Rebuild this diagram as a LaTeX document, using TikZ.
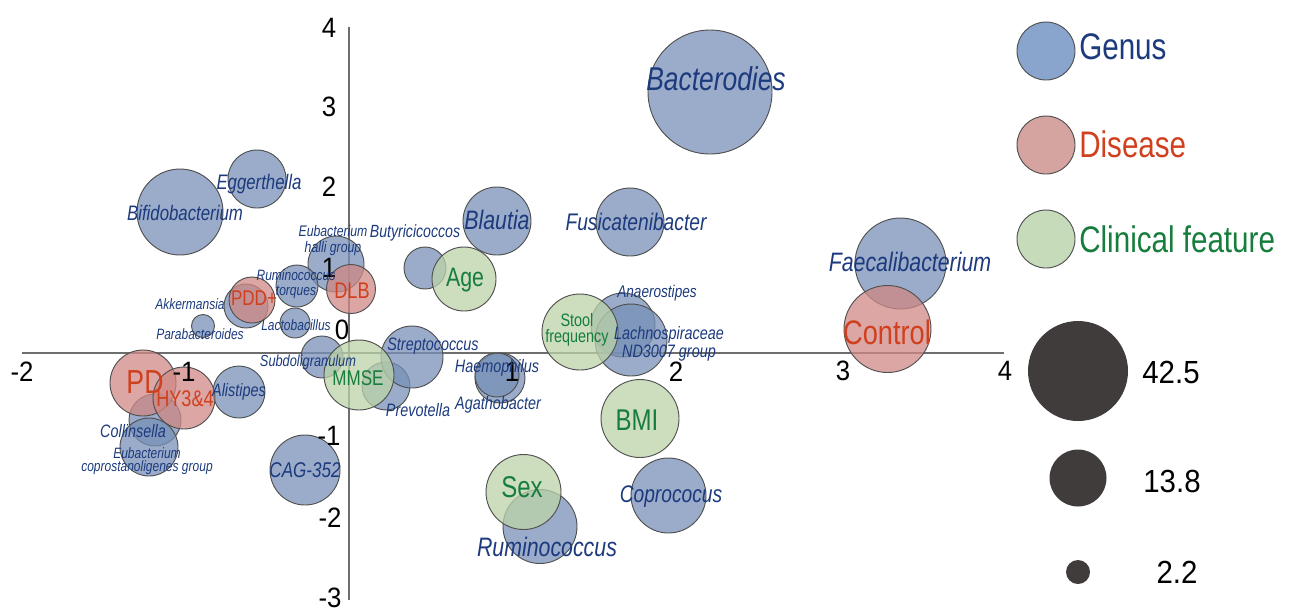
\documentclass[tikz,border=0pt]{standalone}
\usepackage{fontspec}
\setmainfont{Liberation Sans}[FakeStretch=0.8]
\newfontfamily\numfont{Liberation Sans}[FakeStretch=0.92]
\definecolor{genc}{RGB}{120,144,183}
\definecolor{disc}{RGB}{207,136,132}
\definecolor{clic}{RGB}{188,211,168}
\definecolor{genleg}{RGB}{137,165,205}
\definecolor{disleg}{RGB}{213,163,160}
\definecolor{clileg}{RGB}{198,219,185}
\definecolor{gtext}{RGB}{28,58,125}
\definecolor{dtext}{RGB}{208,64,30}
\definecolor{ctext}{RGB}{22,125,60}
\definecolor{bordc}{RGB}{80,80,80}
\definecolor{axc}{RGB}{110,110,110}
\definecolor{sizec}{RGB}{64,60,60}
\newcommand\fz[2]{\fontsize{#1}{#2}\selectfont}
\begin{document}
\begin{tikzpicture}[x=0.75pt,y=-0.75pt,
  bub/.style={circle,draw=bordc,line width=0.7pt,fill opacity=0.75,inner sep=0pt},
  gen/.style={bub,fill=genc},
  dis/.style={bub,fill=disc},
  cli/.style={bub,fill=clic},
  glab/.style={inner sep=0pt,align=center,text=gtext,font=\itshape},
  dlab/.style={inner sep=0pt,align=center,text=dtext},
  clab/.style={inner sep=0pt,align=center,text=ctext},
  tick/.style={inner sep=0pt,font=\numfont\fz{21pt}{24pt}},
  axis/.style={draw=axc,line width=1.1pt},
  sizeb/.style={circle,fill=sizec,inner sep=0pt},
  leglab/.style={inner sep=0pt,anchor=west,font=\fz{27.75pt}{30pt}}]
\useasboundingbox (0,0) rectangle (1291,612);
% axes
\coordinate (xl) at (22,353);
\coordinate (xr) at (1004,353);
\coordinate (yt) at (349,27);
\coordinate (yb) at (349,600);
\draw[axis] (xl) -- (xr);
\draw[axis] (yt) -- (yb);
% genus bubbles
\node[gen,minimum size=93pt] (bact) at (710,92) {};
\node[gen,minimum size=64.5pt] (bifi) at (180,212) {};
\node[gen,minimum size=43.5pt] (egg) at (257,179) {};
\node[gen,minimum size=51pt] (blau) at (497,221) {};
\node[gen,minimum size=51pt] (fusi) at (630,222) {};
\node[gen,minimum size=68.25pt] (faec) at (900.5,263.5) {};
\node[gen,minimum size=42pt] (eubh) at (336,264) {};
\node[gen,minimum size=31.5pt] (buty) at (425,268) {};
\node[gen,minimum size=31.5pt] (rumt) at (297,286) {};
\node[gen,minimum size=33pt] (akk) at (246,306) {};
\node[gen,minimum size=17.25pt] (para) at (203,326) {};
\node[gen,minimum size=22.5pt] (lact) at (295,323) {};
\node[gen,minimum size=31.5pt] (subd) at (322,357) {};
\node[gen,minimum size=36pt] (prev) at (386,386) {};
\node[gen,minimum size=46.5pt] (strep) at (412,357) {};
\node[gen,minimum size=37.5pt] (agat) at (500,378) {};
\node[gen,minimum size=33pt] (haem) at (497,375) {};
\node[gen,minimum size=48pt] (anae) at (623,325) {};
\node[gen,minimum size=54pt] (lach) at (631,340) {};
\node[gen,minimum size=55.5pt] (rum) at (540,526.5) {};
\node[gen,minimum size=56.25pt] (copr) at (668.5,495.5) {};
\node[gen,minimum size=52.5pt] (cag) at (305,470) {};
\node[gen,minimum size=39pt] (ali) at (239,392) {};
\node[gen,minimum size=39pt] (coll) at (155,420) {};
\node[gen,minimum size=43.5pt] (eubc) at (149,447) {};
% disease bubbles
\node[dis,minimum size=49.5pt] (pd) at (143,383) {};
\node[dis,minimum size=46.5pt] (hy) at (184,398) {};
\node[dis,minimum size=36.75pt] (dlb) at (351,289) {};
\node[dis,minimum size=34.5pt] (pdd) at (252,300) {};
\node[dis,minimum size=65.25pt] (ctrl) at (887.5,329) {};
% clinical bubbles
\node[cli,minimum size=48pt] (age) at (464,279) {};
\node[cli,minimum size=52.5pt] (mmse) at (359,375) {};
\node[cli,minimum size=57pt] (stool) at (580,332) {};
\node[cli,minimum size=58.5pt] (bmi) at (640,418.5) {};
\node[cli,minimum size=56.25pt] (sex) at (523.5,492) {};
% tick labels
\node[tick] (tx-2) at (22,372) {-2};
\node[tick] (tx-1) at (184,372) {-1};
\node[tick] (tx1) at (512,372) {1};
\node[tick] (tx2) at (676,372) {2};
\node[tick] (tx3) at (843,371) {3};
\node[tick] (tx4) at (1005,371) {4};
\node[tick] (ty4) at (329,28) {4};
\node[tick] (ty3) at (329,107) {3};
\node[tick] (ty2) at (329,187) {2};
\node[tick] (ty1) at (329,268) {1};
\node[tick] (ty0) at (342,330) {0};
\node[tick] (ty-1) at (329,436) {-1};
\node[tick] (ty-2) at (330,518) {-2};
\node[tick] (ty-3) at (330,598) {-3};
% genus labels
\node[glab,font=\itshape\fz{24.75pt}{28pt}] (bact-l) at (716,79) {Bacterodies};
\node[glab,font=\itshape\fz{15.75pt}{18pt}] (bifi-l) at (185,213) {Bifidobacterium};
\node[glab,font=\itshape\fz{15.75pt}{18pt}] (egg-l) at (259,184) {Eggerthella};
\node[glab,font=\itshape\fz{20pt}{23pt}] (blau-l) at (497,220) {Blautia};
\node[glab,font=\itshape\fz{18pt}{21pt}] (fusi-l) at (636,222) {Fusicatenibacter};
\node[glab,font=\itshape\fz{20pt}{23pt}] (faec-l) at (910,262) {Faecalibacterium};
\node[glab,font=\itshape\fz{18pt}{21pt}] (copr-l) at (671,497) {Coprococus};
\node[glab,font=\itshape\fz{20pt}{23pt}] (rum-l) at (547,547) {Ruminococcus};
\node[glab,font=\itshape\fz{16pt}{19pt}] (cag-l) at (305,470) {CAG-352};
\node[glab,font=\itshape\fz{13.5pt}{16pt}] (ali-l) at (239,392) {Alistipes};
\node[glab,font=\itshape\fz{13.5pt}{16pt}] (strep-l) at (433,346) {Streptococcus};
\node[glab,font=\itshape\fz{13.5pt}{16pt}] (prev-l) at (418,410) {Prevotella};
\node[glab,font=\itshape\fz{13.5pt}{16pt}] (haem-l) at (497,368) {Haemophilus};
\node[glab,font=\itshape\fz{13.5pt}{16pt}] (agat-l) at (498,405) {Agathobacter};
\node[glab,font=\itshape\fz{12pt}{14pt}] (subd-l) at (308,362) {Subdoligranulum};
\node[glab,font=\itshape\fz{11.25pt}{13pt}] (lact-l) at (296,325) {Lactobacillus};
\node[glab,font=\itshape\fz{11.25pt}{13pt}] (akk-l) at (190,304) {Akkermansia};
\node[glab,font=\itshape\fz{11.25pt}{13pt}] (para-l) at (200,334) {Parabacteroides};
\node[glab,font=\itshape\fz{11.25pt}{11.5pt}] (rumt-l) at (296,284) {Ruminococcus\\torques};
\node[glab,font=\itshape\fz{11.5pt}{12pt}] (eubh-l) at (333,241) {Eubacterium\\halli group};
\node[glab,font=\itshape\fz{13.25pt}{15pt}] (buty-l) at (415,233) {Butyricicoccos};
\node[glab,font=\itshape\fz{12.75pt}{15pt}] (anae-l) at (657,293) {Anaerostipes};
\node[glab,font=\itshape\fz{13.5pt}{13.5pt}] (lach-l) at (669,344) {Lachnospiraceae\\ND3007 group};
\node[glab,font=\itshape\fz{13.5pt}{16pt}] (coll-l) at (133,431) {Collinsella};
\node[glab,font=\itshape\fz{11.25pt}{9.5pt}] (eubc-l) at (147,461) {Eubacterium\\coprostanoligenes group};
% disease labels
\node[dlab,font=\fz{25pt}{28pt}] (pd-l) at (145,382) {PD};
\node[dlab,font=\fz{17pt}{20pt}] (hy-l) at (185,399) {HY3\&4};
\node[dlab,font=\fz{17pt}{20pt}] (dlb-l) at (352,291) {DLB};
\node[dlab,font=\fz{16pt}{19pt}] (pdd-l) at (254,298) {PDD+};
\node[dlab,font=\fz{25.5pt}{29pt}] (ctrl-l) at (887,332) {Control};
% clinical labels
\node[clab,font=\fz{20pt}{23pt}] (age-l) at (465,280) {Age};
\node[clab,font=\fz{16pt}{19pt}] (mmse-l) at (358,378) {MMSE};
\node[clab,font=\fz{13.5pt}{12pt}] (stool-l) at (577,330) {Stool\\frequency};
\node[clab,font=\fz{22.5pt}{26pt}] (bmi-l) at (637,420) {BMI};
\node[clab,font=\fz{22.5pt}{26pt}] (sex-l) at (522,487) {Sex};
% legend
\node[circle,draw=bordc,line width=0.7pt,fill=genleg,inner sep=0pt,minimum size=43.5pt] (lg-gen) at (1046,51) {};
\node[circle,draw=bordc,line width=0.7pt,fill=disleg,inner sep=0pt,minimum size=43.5pt] (lg-dis) at (1046,145) {};
\node[circle,draw=bordc,line width=0.7pt,fill=clileg,inner sep=0pt,minimum size=43.5pt] (lg-cli) at (1046,239) {};
\node[leglab,text=gtext] (lg-gen-l) at (1079,47) {Genus};
\node[leglab,text=dtext] (lg-dis-l) at (1079,144) {Disease};
\node[leglab,text=ctext] (lg-cli-l) at (1079,239) {Clinical feature};
\node[sizeb,minimum size=75pt] (sz1) at (1078,371) {};
\node[sizeb,minimum size=42.75pt] (sz2) at (1078,478) {};
\node[sizeb,minimum size=18pt] (sz3) at (1078,572) {};
\node[inner sep=0pt,font=\numfont\fz{24pt}{27pt}] (sz1-l) at (1171,372) {42.5};
\node[inner sep=0pt,font=\numfont\fz{24pt}{27pt}] (sz2-l) at (1172,481) {13.8};
\node[inner sep=0pt,font=\numfont\fz{24pt}{27pt}] (sz3-l) at (1177,572) {2.2};
\end{tikzpicture}
\end{document}
